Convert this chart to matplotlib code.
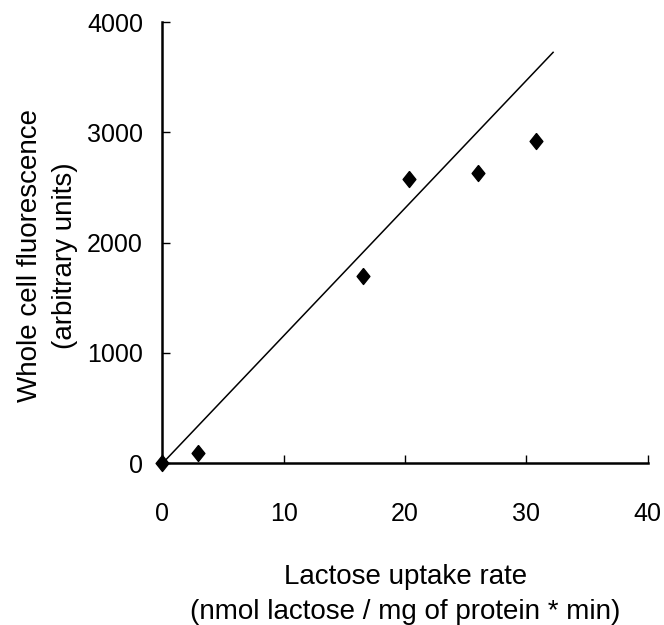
import numpy as np
import matplotlib
matplotlib.use('Agg')
import matplotlib.pyplot as plt

# data
uptake_rate = [0.0, 2.9, 16.5, 20.3, 26.0, 30.8]
fluorescence = [0, 90, 1700, 2575, 2635, 2920]

# trend line drawn in the original (through origin)
fit_x = [0.0, 32.2]
fit_y = [0, 3725]

x_ticks = [0, 10, 20, 30, 40]
y_ticks = [0, 1000, 2000, 3000, 4000]

plt.rcParams['font.family'] = ['Liberation Sans', 'DejaVu Sans']

fig = plt.figure(figsize=(6.64, 6.25), dpi=100)
ax = fig.add_axes([0.2447, 0.2587, 0.9755 - 0.2447, 0.9648 - 0.2587])

ax.plot(fit_x, fit_y, color='black', lw=1.1)

diamond = [(0, 1), (0.8, 0), (0, -1), (-0.8, 0), (0, 1)]
ax.plot(uptake_rate, fluorescence, linestyle='none', marker=diamond,
        markersize=11.5, color='black', clip_on=False, zorder=5)

ax.set_xlim(0, 40)
ax.set_ylim(0, 4000)
ax.set_xticks(x_ticks)
ax.set_yticks(y_ticks)

for side in ['top', 'right']:
    ax.spines[side].set_visible(False)
for side in ['left', 'bottom']:
    ax.spines[side].set_linewidth(1.8)

ax.tick_params(axis='both', direction='in', length=6, width=1.0, labelsize=18)
ax.tick_params(axis='x', pad=28)
ax.tick_params(axis='y', pad=14)

ax.set_xlabel('Lactose uptake rate\n(nmol lactose / mg of protein * min)',
              fontsize=20, labelpad=27, linespacing=1.45)
ax.set_ylabel('Whole cell fluorescence\n(arbitrary units)',
              fontsize=20, linespacing=1.45)
# the original label sits a little below the axis middle
ax.yaxis.set_label_coords(-0.174, 0.47)

fig.savefig('out.png', dpi=100)
